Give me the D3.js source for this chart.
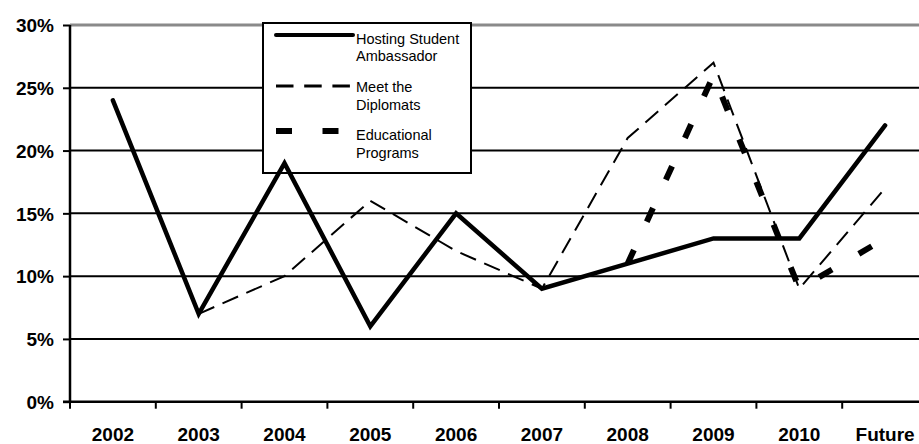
<!DOCTYPE html>
<html>
<head>
<meta charset="utf-8">
<script src="https://cdn.jsdelivr.net/npm/d3@7"></script>
<style>
  html, body { margin: 0; padding: 0; background: #fff; }
  svg { display: block; font-family: Arial, "Liberation Sans", sans-serif; }
</style>
</head>
<body>
<svg id="chart" width="919" height="444"></svg>
<script>
const categories = ["2002","2003","2004","2005","2006","2007","2008","2009","2010","Future"];
const hostingStudent = [24, 7, 19, 6, 15, 9, 11, 13, 13, 22];
const meetDiplomats = [null, 7, 10, 16, 12, 9, 21, 27, 9, 17];
const educationalPrograms = [null, null, null, null, null, null, 11, 26, 9, 13];
const yTicks = [0, 5, 10, 15, 20, 25, 30];
const seriesNames = [["Hosting Student", "Ambassador"], ["Meet the", "Diplomats"], ["Educational", "Programs"]];

(function () {
const svg = d3.select("#chart");
const plotLeft = 70, bandW = 85.8, plotTop = 25, plotBottom = 401.7;

const x = d3.scaleBand().domain(categories).range([plotLeft, plotLeft + bandW * categories.length]).padding(0);
const y = d3.scaleLinear().domain([0, 30]).range([plotBottom, plotTop]);
const cx = c => x(c) + x.bandwidth() / 2;

// gridlines
svg.append("g").selectAll("line").data(yTicks.filter(t => t > 0)).join("line")
  .attr("x1", plotLeft).attr("x2", 919)
  .attr("y1", d => y(d)).attr("y2", d => y(d))
  .attr("stroke", d => d === 30 ? "#8a8a8a" : "#000")
  .attr("stroke-width", d => d === 30 ? 3 : 2);

// y axis
const yAxis = svg.append("g").attr("transform", `translate(${plotLeft},0)`)
  .call(d3.axisLeft(y).tickValues(yTicks).tickSize(7).tickPadding(9).tickFormat(d => d + "%"));
yAxis.select(".domain").attr("stroke", "#000").attr("stroke-width", 2.5).attr("d", `M0,${plotTop}V${plotBottom}`);
yAxis.selectAll(".tick line").attr("stroke", "#000").attr("stroke-width", 2);
yAxis.selectAll(".tick text").attr("font-size", 19).attr("font-weight", "bold")
  .attr("font-family", "Arial, 'Liberation Sans', sans-serif").attr("fill", "#000").attr("dy", "0.35em");

// x axis
const xAxis = svg.append("g").attr("transform", `translate(0,${plotBottom})`);
xAxis.append("line").attr("x1", plotLeft - 7).attr("x2", 919).attr("y1", 0).attr("y2", 0)
  .attr("stroke", "#000").attr("stroke-width", 2.5);
xAxis.selectAll("line.tk").data(categories).join("line").attr("class", "tk")
  .attr("x1", d => x(d)).attr("x2", d => x(d)).attr("y1", 0).attr("y2", 7)
  .attr("stroke", "#000").attr("stroke-width", 2);
xAxis.selectAll("text").data(categories).join("text")
  .attr("x", d => cx(d)).attr("y", 39)
  .attr("text-anchor", "middle").attr("font-size", 19).attr("font-weight", "bold").attr("fill", "#000")
  .text(d => d);

// legend
const lg = svg.append("g");
lg.append("rect").attr("x", 263).attr("y", 23).attr("width", 208).attr("height", 150)
  .attr("fill", "#fff").attr("stroke", "#000").attr("stroke-width", 2);
const legendStyles = [
  { w: 4, dash: null, cap: "round" },
  { w: 2.8, dash: "17.5,10.7", cap: "butt" },
  { w: 6, dash: "16,30.5", cap: "butt" }
];
const legendY = [35, 86, 131];
const legendTextY = [[43.5, 61], [92, 110], [139.5, 157.5]];
seriesNames.forEach((nm, i) => {
  const s = legendStyles[i];
  lg.append("line").attr("x1", 276).attr("x2", 353).attr("y1", legendY[i]).attr("y2", legendY[i])
    .attr("stroke", "#000").attr("stroke-width", s.w).attr("stroke-linecap", s.cap)
    .attr("stroke-dasharray", s.dash);
  nm.forEach((t, j) => {
    lg.append("text").attr("x", 356).attr("y", legendTextY[i][j]).attr("font-size", 14.5)
      .attr("fill", "#000").text(t);
  });
});

// series
const line = d3.line().defined(d => d.v !== null).x(d => cx(d.c)).y(d => y(d.v));
const series = [
  { vals: hostingStudent, w: 4.5, dash: null, cap: "round" },
  { vals: meetDiplomats, w: 2, dash: "17,9", cap: "butt" },
  { vals: educationalPrograms, w: 6, dash: "15,31", cap: "butt" }
];
series.forEach(s => {
  svg.append("path")
    .datum(categories.map((c, i) => ({ c, v: s.vals[i] })))
    .attr("d", line).attr("fill", "none").attr("stroke", "#000")
    .attr("stroke-width", s.w).attr("stroke-dasharray", s.dash)
    .attr("stroke-linecap", s.cap).attr("stroke-linejoin", "miter");
});
})();
</script>
</body>
</html>
